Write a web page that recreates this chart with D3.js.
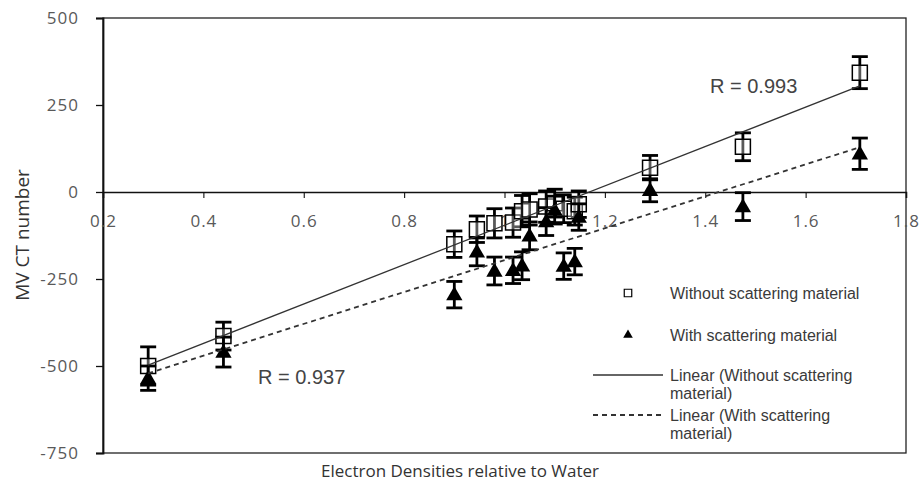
<!DOCTYPE html>
<html>
<head>
<meta charset="utf-8">
<script src="https://cdn.jsdelivr.net/npm/d3@7"></script>
<style>
  body { margin: 0; background: #fff; }
  svg { display: block; }
  .tick text { font-family: "Open Sans", sans-serif; font-size: 17px; fill: #595959; letter-spacing: 1px; }
  .legend text { font-family: "Liberation Sans", Arial, sans-serif; font-size: 16px; fill: #3a3a3a; }
  .rlabel { font-family: "Liberation Sans", Arial, sans-serif; font-size: 20px; fill: #444; }
  .axis-title { font-family: "Open Sans", sans-serif; font-size: 17px; fill: #333; }
</style>
</head>
<body>
<div id="chart"></div>
<script>
// relative electron density of each insert
const density = [0.29, 0.44, 0.90, 0.945, 0.98, 1.017, 1.035, 1.05, 1.083, 1.10, 1.118, 1.14, 1.148, 1.29, 1.475, 1.708];
// MVCT numbers without scattering material (squares)
const ctWithout = [-500, -414, -150, -107, -90, -88, -55, -50, -42, -32, -48, -55, -35, 70, 130, 343];
const errWithout = [55, 40, 38, 38, 42, 42, 45, 45, 45, 40, 40, 40, 38, 35, 40, 46];
// MVCT numbers with scattering material (triangles)
const ctWith = [-535, -460, -295, -172, -227, -225, -212, -126, -85, -52, -213, -200, -72, 5, -42, 110];
const errWith = [35, 43, 38, 40, 40, 38, 40, 40, 40, 40, 38, 38, 38, 33, 40, 45];

const xTicks = [0.2, 0.4, 0.6, 0.8, 1, 1.2, 1.4, 1.6, 1.8];
const yTicks = [500, 250, 0, -250, -500, -750];
const rLabels = ['R = 0.993', 'R = 0.937'];
const legendLabels = [['Without scattering material'], ['With scattering material'],
  ['Linear (Without scattering', 'material)'], ['Linear (With scattering', 'material)']];

const W = 922, H = 487;
const plot = { left: 103, right: 906, top: 18, bottom: 453 };

const x = d3.scaleLinear().domain([0.2, 1.8]).range([plot.left, plot.right]);
const y = d3.scaleLinear().domain([-750, 500]).range([plot.bottom, plot.top]);

const svg = d3.select('#chart').append('svg')
  .attr('width', W)
  .attr('height', H);

// plot area border
svg.append('rect')
  .attr('x', plot.left).attr('y', plot.top)
  .attr('width', plot.right - plot.left).attr('height', plot.bottom - plot.top)
  .attr('fill', 'none').attr('stroke', '#222').attr('stroke-width', 1.3);

// y axis
const yAxis = svg.append('g')
  .attr('transform', 'translate(' + plot.left + ',0)')
  .call(d3.axisLeft(y).tickValues(yTicks).tickSize(7).tickPadding(17).tickFormat(d => String(d)));
yAxis.select('.domain').attr('stroke', '#111').attr('stroke-width', 1.8);
yAxis.selectAll('.tick line').attr('stroke', '#111').attr('stroke-width', 1.3);

// x axis crossing at 0
const xAxis = svg.append('g')
  .attr('transform', 'translate(0,' + y(0) + ')')
  .call(d3.axisBottom(x).tickValues(xTicks).tickSize(6).tickPadding(17).tickFormat(d3.format('~g')));
xAxis.select('.domain').attr('stroke', '#111').attr('stroke-width', 1.5);
xAxis.selectAll('.tick line').attr('stroke', '#111').attr('stroke-width', 1.1);

// least squares trend line
function fit(xs, ys) {
  const mx = d3.mean(xs), my = d3.mean(ys);
  const b = d3.sum(xs, (v, i) => (v - mx) * (ys[i] - my)) / d3.sum(xs, v => (v - mx) * (v - mx));
  return { slope: b, icpt: my - b * mx };
}

const squares = density.map((d, i) => ({ x: d, y: ctWithout[i], e: errWithout[i] }));
const triangles = density.map((d, i) => ({ x: d, y: ctWith[i], e: errWith[i] }));

function errorBars(data) {
  const g = svg.append('g').attr('stroke', '#000').attr('stroke-width', 2.8);
  g.selectAll('line.v').data(data).enter().append('line')
    .attr('x1', d => x(d.x)).attr('x2', d => x(d.x))
    .attr('y1', d => y(d.y + d.e)).attr('y2', d => y(d.y - d.e));
  g.selectAll('line.top').data(data).enter().append('line')
    .attr('x1', d => x(d.x) - 8).attr('x2', d => x(d.x) + 8)
    .attr('y1', d => y(d.y + d.e)).attr('y2', d => y(d.y + d.e));
  g.selectAll('line.bot').data(data).enter().append('line')
    .attr('x1', d => x(d.x) - 8).attr('x2', d => x(d.x) + 8)
    .attr('y1', d => y(d.y - d.e)).attr('y2', d => y(d.y - d.e));
}

const sq = d3.symbol().type(d3.symbolSquare);
const tri = d3.symbol().type(d3.symbolTriangle);

errorBars(squares);
svg.append('g').selectAll('path').data(squares).enter().append('path')
  .attr('d', sq.size(225))
  .attr('transform', d => 'translate(' + x(d.x) + ',' + y(d.y) + ')')
  .attr('fill', '#fff').attr('fill-opacity', 0.35).attr('stroke', '#000').attr('stroke-width', 1.5);

errorBars(triangles);
svg.append('g').selectAll('path').data(triangles).enter().append('path')
  .attr('d', tri.size(115))
  .attr('transform', d => 'translate(' + x(d.x) + ',' + (y(d.y) + 1) + ')')
  .attr('fill', '#000');

// trend lines over the data range
const xr = d3.extent(density);
[[ctWithout, null], [ctWith, '5,4']].forEach(([ys, dash]) => {
  const f = fit(density, ys);
  svg.append('line')
    .attr('x1', x(xr[0])).attr('y1', y(f.slope * xr[0] + f.icpt))
    .attr('x2', x(xr[1])).attr('y2', y(f.slope * xr[1] + f.icpt))
    .attr('stroke', '#333').attr('stroke-width', dash ? 1.8 : 1.3)
    .attr('stroke-dasharray', dash);
});

svg.append('text').attr('class', 'rlabel').attr('x', 710).attr('y', 93).text(rLabels[0]);
svg.append('text').attr('class', 'rlabel').attr('x', 258).attr('y', 384).text(rLabels[1]);

// legend
const leg = svg.append('g').attr('class', 'legend');
const legY = [293, 335, 375, 415];
leg.append('path').attr('d', sq.size(56)).attr('transform', 'translate(628,' + legY[0] + ')')
  .attr('fill', '#fff').attr('stroke', '#000').attr('stroke-width', 1.2);
leg.append('path').attr('d', tri.size(40)).attr('transform', 'translate(628,' + legY[1] + ')')
  .attr('fill', '#000');
leg.append('line').attr('x1', 593).attr('x2', 663).attr('y1', legY[2]).attr('y2', legY[2])
  .attr('stroke', '#333').attr('stroke-width', 1.3);
leg.append('line').attr('x1', 593).attr('x2', 663).attr('y1', legY[3]).attr('y2', legY[3])
  .attr('stroke', '#333').attr('stroke-width', 1.8).attr('stroke-dasharray', '5,4');
legendLabels.forEach((lines, i) => {
  const t = leg.append('text').attr('x', 670).attr('y', legY[i] + 6);
  lines.forEach((s, j) => t.append('tspan').attr('x', 670).attr('dy', j ? 18 : 0).text(s));
});

// axis titles
svg.append('text').attr('class', 'axis-title')
  .attr('x', 460).attr('y', 477).attr('text-anchor', 'middle')
  .text('Electron Densities relative to Water');
svg.append('text').attr('class', 'axis-title')
  .style('font-size', '19px')
  .attr('transform', 'translate(29,235) rotate(-90)').attr('text-anchor', 'middle')
  .text('MV CT number');
</script>
</body>
</html>
